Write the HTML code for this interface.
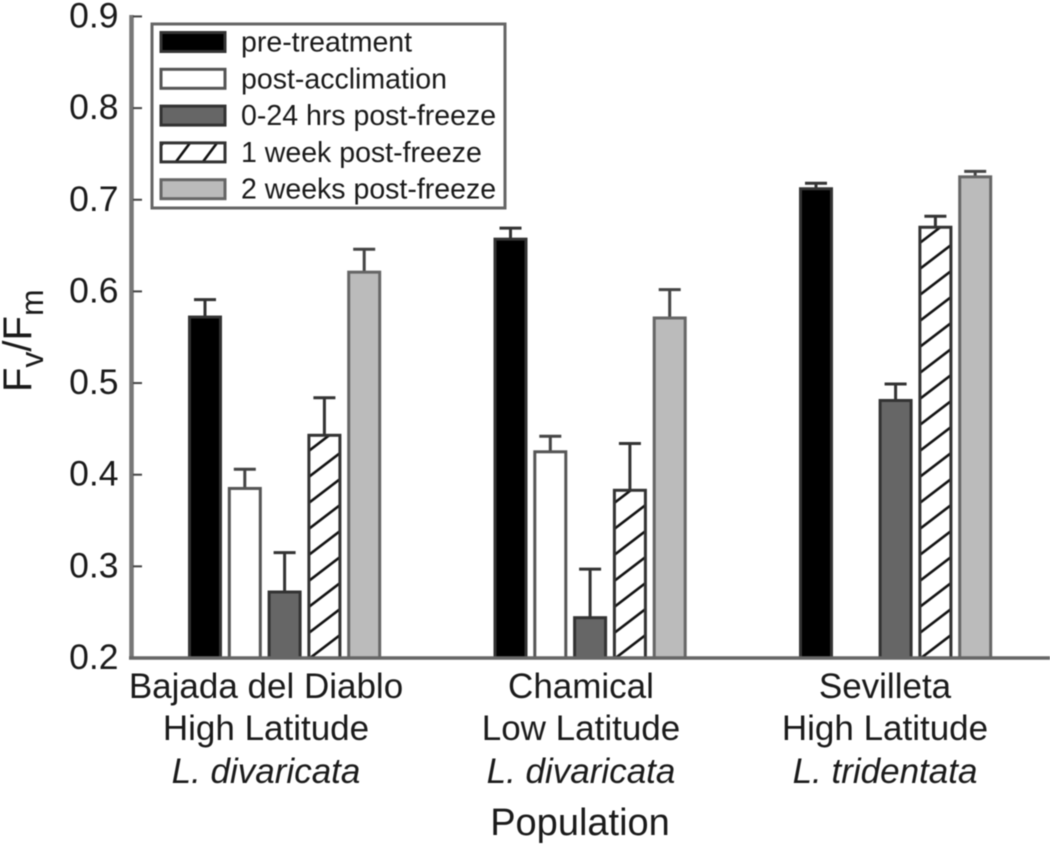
<!DOCTYPE html>
<html>
<head>
<meta charset="utf-8">
<style>
html,body{margin:0;padding:0;background:#fff;width:1050px;height:846px;overflow:hidden}
svg{display:block;filter:blur(0.6px)}
text{font-family:"Liberation Sans",sans-serif;fill:#1a1a1a}
</style>
</head>
<body>
<svg id="chart" xmlns="http://www.w3.org/2000/svg" width="1050" height="846" viewBox="0 0 1050 846">
  <defs id="defs"></defs>
  <g id="bars"></g>
  <g id="axes"></g>
  <g id="legend"></g>
  <text transform="translate(31,392) rotate(-90)" font-size="40">F<tspan font-size="32" dy="12">v</tspan><tspan dy="-12">/F</tspan><tspan font-size="32" dy="12">m</tspan></text>
  <text x="580" y="835" text-anchor="middle" font-size="38">Population</text>
</svg>
<script>
const seriesNames = ["pre-treatment", "post-acclimation", "0-24 hrs post-freeze", "1 week post-freeze", "2 weeks post-freeze"];
const populations = ["Bajada del Diablo", "Chamical", "Sevilleta"];
const latitudes = ["High Latitude", "Low Latitude", "High Latitude"];
const species = ["L. divaricata", "L. divaricata", "L. tridentata"];
const preTreatment = [0.572, 0.657, 0.712];
const postAcclimation = [0.385, 0.425, null];
const postFreeze24h = [0.272, 0.244, 0.481];
const postFreeze1w = [0.443, 0.383, 0.670];
const postFreeze2w = [0.621, 0.571, 0.725];
const preTreatmentErr = [0.019, 0.012, 0.006];
const postAcclimationErr = [0.021, 0.017, null];
const postFreeze24hErr = [0.043, 0.053, 0.018];
const postFreeze1wErr = [0.041, 0.051, 0.012];
const postFreeze2wErr = [0.025, 0.031, 0.006];
const yTicks = [0.2, 0.3, 0.4, 0.5, 0.6, 0.7, 0.8, 0.9];

const seriesValues = [preTreatment, postAcclimation, postFreeze24h, postFreeze1w, postFreeze2w];
const seriesErrors = [preTreatmentErr, postAcclimationErr, postFreeze24hErr, postFreeze1wErr, postFreeze2wErr];
const barKeys = ["pre-treatment", "post-acclimation", "0-24h", "1-week", "2-weeks"];
const fills = ["#000", "#fff", "#666", "#fff", "#bbb"];
const strokes = ["#333", "#555", "#333", "#333", "#666"];
const errColors = ["#333", "#444", "#333", "#333", "#444"];

const NS = "http://www.w3.org/2000/svg";
const groupStart = [188, 493.5, 799];
const barStep = 39.8, barW = 34;
const yOf = v => 658 - (v - 0.2) * 916.5;
const xOf = (g, s) => groupStart[g] + s * barStep;

function mk(parent, tag, attrs, text) {
  const el = document.createElementNS(NS, tag);
  for (const k in attrs) el.setAttribute(k, attrs[k]);
  if (text !== undefined) el.textContent = text;
  parent.appendChild(el);
  return el;
}
function hatch(id, x, y, w, h, run) {
  const p = mk(document.getElementById("defs"), "pattern", {id: id, patternUnits: "userSpaceOnUse", x: x, y: y, width: w, height: h});
  mk(p, "line", {x1: 0, y1: h, x2: run, y2: 0, stroke: "#111", "stroke-width": 2.6});
}

const barsG = document.getElementById("bars");
populations.forEach((pop, g) => {
  seriesValues.forEach((vals, s) => {
    const v = vals[g];
    if (v === null) return;
    const x = xOf(g, s), top = yOf(v), base = yOf(0.2);
    const errTop = yOf(v + seriesErrors[s][g]);
    const cx = x + barW / 2;
    let fill = fills[s];
    if (s === 3) {
      const pid = "hatch-" + g;
      hatch(pid, x, 660, barW, 26, barW);
      fill = "url(#" + pid + ")";
    }
    const stem = mk(barsG, "line", {x1: cx, y1: top, x2: cx, y2: errTop, stroke: errColors[s], "stroke-width": 3});
    
    
    const cap = mk(barsG, "line", {x1: cx - 11, y1: errTop, x2: cx + 11, y2: errTop, stroke: errColors[s], "stroke-width": 3});
    
    
    const bar = mk(barsG, "rect", {x: x + 1.5, y: top, width: barW - 3, height: base - top, fill: fill, stroke: strokes[s], "stroke-width": 3});
    
    
  });
});

const axes = document.getElementById("axes");
const yAxis = mk(axes, "line", {x1: 131.5, y1: 15, x2: 131.5, y2: 659, stroke: "#777", "stroke-width": 4.5});


const xAxis = mk(axes, "line", {x1: 129, y1: 658, x2: 1050, y2: 658, stroke: "#666", "stroke-width": 3.5});



yTicks.forEach(t => {
  const y = yOf(t);
  if (t > 0.25) {
    const tick = mk(axes, "line", {x1: 133, y1: y, x2: 142, y2: y, stroke: "#444", "stroke-width": 2});
    
    
  }
  const lab = mk(axes, "text", {x: 118.5, y: y + 11, "text-anchor": "end", "font-size": 35.5}, t.toFixed(1));
  
  
});

const catX = [266, 581, 885];
populations.forEach((pop, g) => {
  const a = mk(axes, "text", {x: catX[g], y: 698, "text-anchor": "middle", "font-size": 35}, pop);
  
  
  const b = mk(axes, "text", {x: catX[g], y: 740, "text-anchor": "middle", "font-size": 35}, latitudes[g]);
  
  
  const c = mk(axes, "text", {x: catX[g], y: 783, "text-anchor": "middle", "font-size": 35, "font-style": "italic"}, species[g]);
  
  
});

const legend = document.getElementById("legend");
const box = mk(legend, "rect", {x: 152, y: 24, width: 353, height: 184, fill: "#fff", stroke: "#666", "stroke-width": 3});


hatch("hatch-legend", 175, 143, 27, 20, 15);
seriesNames.forEach((name, s) => {
  const y = 42 + s * 36.8;
  const sw = mk(legend, "rect", {x: 161, y: y - 9.5, width: 64, height: 19, fill: s === 3 ? "url(#hatch-legend)" : fills[s], stroke: strokes[s], "stroke-width": 3});
  
  
  const t = mk(legend, "text", {x: 241, y: y + 9.5, "font-size": 28.5}, name);
  
  
});
</script>
</body>
</html>
